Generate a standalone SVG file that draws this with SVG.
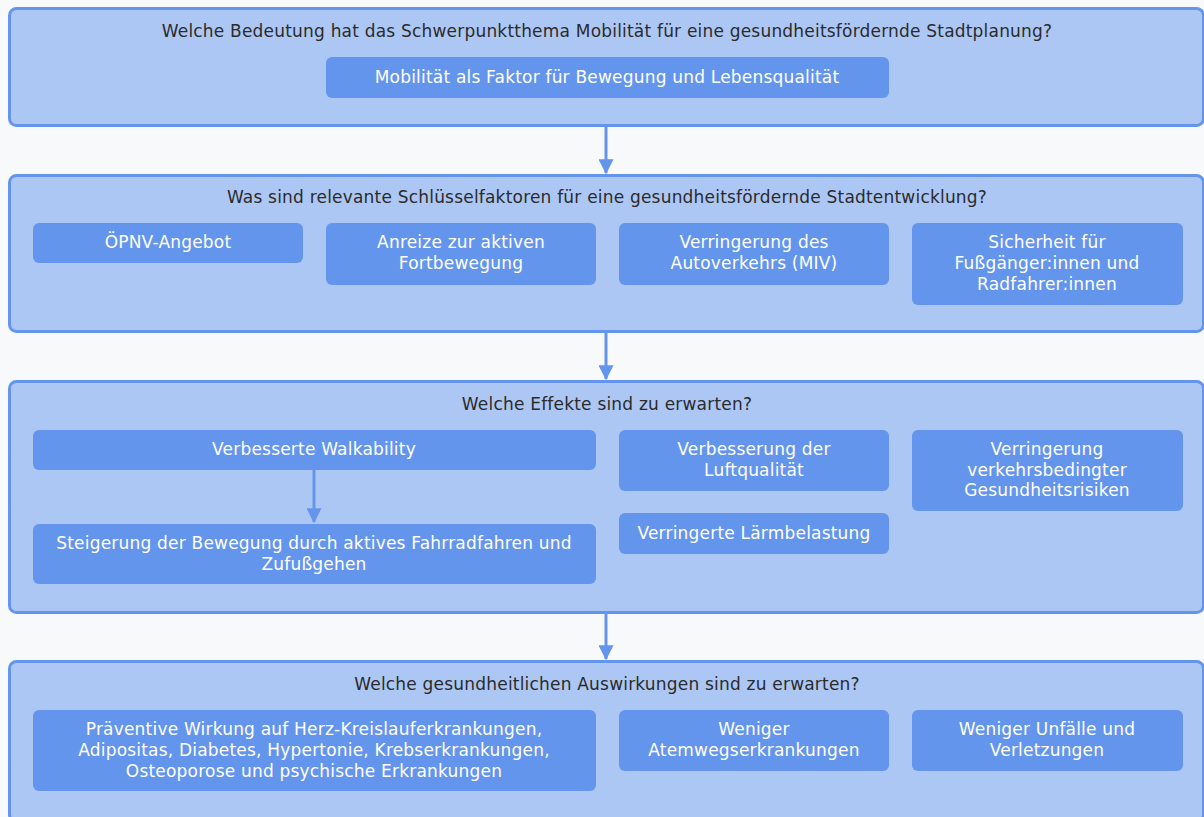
<svg xmlns="http://www.w3.org/2000/svg" width="1204" height="817" viewBox="0 0 1204 817">
<style>
.bg{fill:#f8f9fb}
.grp{fill:#adc7f5;stroke:#6495ed;stroke-width:3}
.nd{fill:#6495ed}
.t{font-family:"DejaVu Sans",sans-serif;font-size:17px;letter-spacing:0.2px;fill:#2b2b2b;text-anchor:middle}
.w{font-family:"DejaVu Sans",sans-serif;font-size:17px;letter-spacing:0.2px;fill:#ffffff;text-anchor:middle}
.c{stroke:#6495ed;stroke-width:3;fill:none}
</style>
<defs>
<marker id="ah" markerWidth="5" markerHeight="5" refX="4.6" refY="2.5" orient="auto" markerUnits="strokeWidth">
<path d="M0,0 L5,2.5 L0,5 z" fill="#6495ed"/>
</marker>
</defs>
<rect class="bg" x="0" y="0" width="1204" height="817"/>
<g id="g1">
<rect class="grp" x="9.5" y="8.5" width="1194" height="117" rx="7"/>
<text class="t" x="607" y="37">Welche Bedeutung hat das Schwerpunktthema Mobilität für eine gesundheitsfördernde Stadtplanung?</text>
</g>
<g id="n1"><rect class="nd" x="326" y="57" width="563" height="41" rx="6"/><text class="w" x="607" y="83">Mobilität als Faktor für Bewegung und Lebensqualität</text></g>
<g id="g2">
<rect class="grp" x="9.5" y="175.5" width="1194" height="156" rx="7"/>
<text class="t" x="607" y="203">Was sind relevante Schlüsselfaktoren für eine gesundheitsfördernde Stadtentwicklung?</text>
</g>
<g id="n2a"><rect class="nd" x="33" y="223" width="270" height="40" rx="6"/><text class="w" x="168" y="248">ÖPNV-Angebot</text></g>
<g id="n2b"><rect class="nd" x="326" y="223" width="270" height="62" rx="6"/><text class="w" x="461" y="248">Anreize zur aktiven</text><text class="w" x="461" y="269">Fortbewegung</text></g>
<g id="n2c"><rect class="nd" x="619" y="223" width="270" height="62" rx="6"/><text class="w" x="754" y="248">Verringerung des</text><text class="w" x="754" y="269">Autoverkehrs (MIV)</text></g>
<g id="n2d"><rect class="nd" x="912" y="223" width="271" height="82" rx="6"/><text class="w" x="1047" y="248">Sicherheit für</text><text class="w" x="1047" y="269">Fußgänger:innen und</text><text class="w" x="1047" y="290">Radfahrer:innen</text></g>
<g id="g3">
<rect class="grp" x="9.5" y="381.5" width="1194" height="231" rx="7"/>
<text class="t" x="607" y="410">Welche Effekte sind zu erwarten?</text>
</g>
<g id="n3a"><rect class="nd" x="33" y="430" width="563" height="40" rx="6"/><text class="w" x="314" y="455">Verbesserte Walkability</text></g>
<g id="n3b"><rect class="nd" x="33" y="524" width="563" height="60" rx="6"/><text class="w" x="314" y="549">Steigerung der Bewegung durch aktives Fahrradfahren und</text><text class="w" x="314" y="570">Zufußgehen</text></g>
<g id="n3c"><rect class="nd" x="619" y="430" width="270" height="61" rx="6"/><text class="w" x="754" y="455">Verbesserung der</text><text class="w" x="754" y="476">Luftqualität</text></g>
<g id="n3d"><rect class="nd" x="619" y="513" width="270" height="41" rx="6"/><text class="w" x="754" y="539">Verringerte Lärmbelastung</text></g>
<g id="n3e"><rect class="nd" x="912" y="430" width="271" height="81" rx="6"/><text class="w" x="1047" y="455">Verringerung</text><text class="w" x="1047" y="476">verkehrsbedingter</text><text class="w" x="1047" y="496">Gesundheitsrisiken</text></g>
<g id="g4">
<rect class="grp" x="9.5" y="661.5" width="1194" height="160" rx="7"/>
<text class="t" x="607" y="690">Welche gesundheitlichen Auswirkungen sind zu erwarten?</text>
</g>
<g id="n4a"><rect class="nd" x="33" y="710" width="563" height="81" rx="6"/><text class="w" x="314" y="735">Präventive Wirkung auf Herz-Kreislauferkrankungen,</text><text class="w" x="314" y="756">Adipositas, Diabetes, Hypertonie, Krebserkrankungen,</text><text class="w" x="314" y="777">Osteoporose und psychische Erkrankungen</text></g>
<g id="n4b"><rect class="nd" x="619" y="710" width="270" height="61" rx="6"/><text class="w" x="754" y="735">Weniger</text><text class="w" x="754" y="756">Atemwegserkrankungen</text></g>
<g id="n4c"><rect class="nd" x="912" y="710" width="271" height="61" rx="6"/><text class="w" x="1047" y="735">Weniger Unfälle und</text><text class="w" x="1047" y="756">Verletzungen</text></g>
<g id="connectors">
<line class="c" x1="606" y1="127" x2="606" y2="173" marker-end="url(#ah)"/>
<line class="c" x1="606" y1="333" x2="606" y2="379" marker-end="url(#ah)"/>
<line class="c" x1="606" y1="614" x2="606" y2="659" marker-end="url(#ah)"/>
<line class="c" x1="314" y1="470" x2="314" y2="522" marker-end="url(#ah)"/>
</g>
</svg>
